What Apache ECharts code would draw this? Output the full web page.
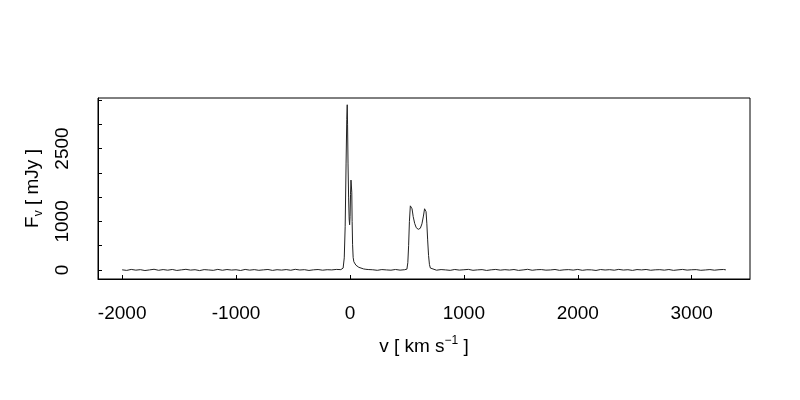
<!DOCTYPE html>
<html>

<head>
    <meta charset="UTF-8">
    <title>Spectrum</title>
    <script src="https://cdn.jsdelivr.net/npm/echarts@6.0.0/dist/echarts.min.js"></script>
    <style>
        html, body { margin: 0; padding: 0; background: #fff; }
        #chart { width: 800px; height: 400px; }
    </style>
</head>

<body>
    <div id="chart"></div>
    <script>
        // left baseline (km/s, mJy)
        const vLeft = [-2000, -1960, -1920, -1880, -1840, -1800, -1760, -1720, -1680, -1640,
            -1600, -1560, -1520, -1480, -1440, -1400, -1360, -1320, -1280, -1240,
            -1200, -1160, -1120, -1080, -1040, -1000, -960, -920, -880, -840,
            -800, -760, -720, -680, -640, -600, -560, -520, -480, -440,
            -400, -360, -320, -280, -240, -200, -160, -120, -80];
        const fLeft = [4, -8, 12, -3, 7, -11, 2, 15, -6, 9,
            -4, 11, -9, 3, 14, -2, 6, -12, 8, 1,
            -7, 13, -5, 10, -1, 5, -10, 12, -3, 8,
            -6, 3, 11, -8, 6, -2, 9, -5, 14, 0,
            7, -9, 4, 10, -4, 6, 2, 12, 8];

        // narrow double line near 0
        const vCore = [-70, -60, -50, -42, -34, -28, -24, -21, -17, -12, -7, -3, 1, 5, 9, 13, 16, 19,
            23, 28, 34, 42, 52, 64, 78, 95, 120, 140, 160];
        const fCore = [15, 40, 250, 900, 2200, 3100, 3400, 3000, 2200, 1500, 1050, 930, 1100, 1550, 1850, 1880, 1600, 1000,
            520, 260, 170, 130, 100, 75, 55, 38, 22, 14, 10];

        const vMid = [200, 240, 280, 320, 360, 400, 440, 480];
        const fMid = [5, -6, 9, 2, -4, 11, -3, 6];

        // double-horned profile
        const vHorn = [500, 508, 515, 522, 530, 536, 545, 555, 568, 582, 600, 618, 632, 645, 655, 661,
            668, 675, 682, 690, 698, 706, 715];
        const fHorn = [18, 150, 500, 1000, 1320, 1358, 1260, 1100, 960, 870, 837, 860, 950, 1110, 1260, 1300,
            1200, 950, 620, 300, 110, 40, 15];

        // right baseline
        const vRight = [720, 760, 800, 840, 880, 920, 960, 1000, 1040, 1080,
            1120, 1160, 1200, 1240, 1280, 1320, 1360, 1400, 1440, 1480,
            1520, 1560, 1600, 1640, 1680, 1720, 1760, 1800, 1840, 1880,
            1920, 1960, 2000, 2040, 2080, 2120, 2160, 2200, 2240, 2280,
            2320, 2360, 2400, 2440, 2480, 2520, 2560, 2600, 2640, 2680,
            2720, 2760, 2800, 2840, 2880, 2920, 2960, 3000, 3040, 3080,
            3120, 3160, 3200, 3240, 3280, 3300];
        const fRight = [6, -4, 9, 2, -7, 11, -2, 5, 13, -6,
            3, 8, -9, 4, 12, -3, 7, -1, 10, -8,
            2, 14, -5, 6, 9, -3, 1, 11, -7, 4,
            8, -2, 12, -6, 5, 3, -9, 10, 0, 7,
            -4, 13, -1, 6, -8, 9, 2, 11, -5, 4,
            7, -3, 10, -7, 3, 12, -2, 5, 8, -6,
            1, 9, -4, 6, 11, 3];

        const xTicks = [-2000, -1000, 0, 1000, 2000, 3000];
        const yTicks = [0, 500, 1000, 1500, 2000, 2500, 3000, 3500];
        const yLabels = [0, 1000, 2500];

        const velocity = [].concat(vLeft, vCore, vMid, vHorn, vRight);
        const flux = [].concat(fLeft, fCore, fMid, fHorn, fRight);
        const spectrum = velocity.map((v, i) => [v, flux[i]]);

        const font = 'Liberation Sans, Arial, sans-serif';
        const plain = v => String(v);
        const chart = echarts.init(document.getElementById('chart'));

        chart.setOption({
            animation: false,
            backgroundColor: '#fff',
            grid: {
                left: 98, right: 50, top: 98, bottom: 121,
                show: true, borderColor: '#000', borderWidth: 1
            },
            xAxis: {
                type: 'value',
                min: -2212, max: 3512,
                splitLine: { show: false },
                axisLine: { onZero: false, lineStyle: { color: '#000', width: 1 } },
                axisTick: { inside: true, length: 4, customValues: xTicks, lineStyle: { color: '#000' } },
                axisLabel: {
                    customValues: xTicks, margin: 25, formatter: plain,
                    color: '#000', fontSize: 19, fontFamily: font
                },
                name: '{n|v [ km s}{sup|−1}{n| ]}',
                nameLocation: 'middle',
                nameGap: 56,
                nameTextStyle: {
                    color: '#000', fontFamily: font, fontSize: 19,
                    rich: {
                        n: { fontSize: 19, lineHeight: 24, fontFamily: font, color: '#000' },
                        sup: { fontSize: 12, lineHeight: 12, verticalAlign: 'top', fontFamily: font, color: '#000' }
                    }
                }
            },
            yAxis: {
                type: 'value',
                min: -185, max: 3539,
                splitLine: { show: false },
                axisLine: { onZero: false, lineStyle: { color: '#000', width: 1 } },
                axisTick: { inside: true, length: 4, customValues: yTicks, lineStyle: { color: '#000' } },
                axisLabel: {
                    customValues: yLabels, rotate: 90, margin: 26, formatter: plain,
                    color: '#000', fontSize: 19, fontFamily: font
                },
                name: '{n|F}{sub|v}{n| [ mJy ]}',
                nameLocation: 'middle',
                nameGap: 48,
                nameTextStyle: {
                    color: '#000', fontFamily: font, fontSize: 19,
                    rich: {
                        n: { fontSize: 19, lineHeight: 24, fontFamily: font, color: '#000' },
                        sub: { fontSize: 12, lineHeight: 12, verticalAlign: 'bottom', fontFamily: font, color: '#000' }
                    }
                }
            },
            series: [{
                type: 'line',
                data: spectrum,
                showSymbol: false,
                lineStyle: { color: '#222', width: 1 }
            }]
        });
    </script>
</body>

</html>
